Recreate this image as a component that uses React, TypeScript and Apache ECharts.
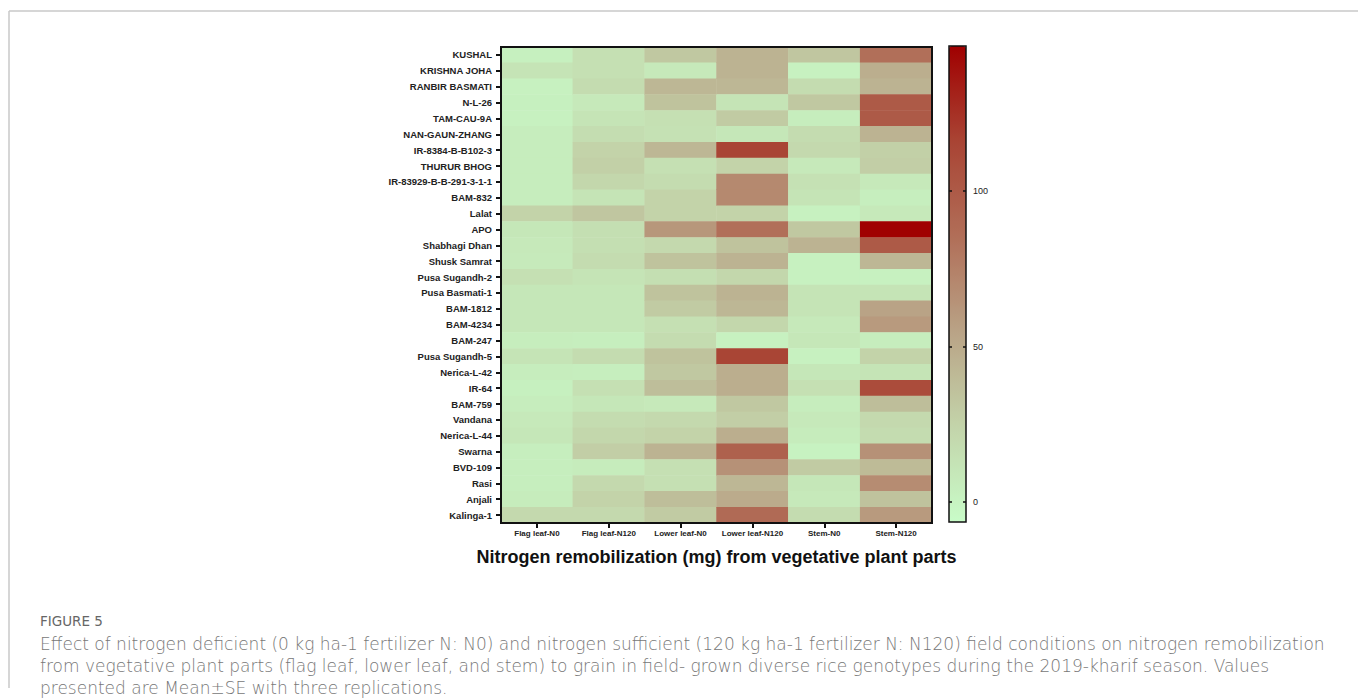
import React, { useEffect, useRef } from "react";
import * as echarts from "echarts";

const genotypes = [
  "KUSHAL", "KRISHNA JOHA", "RANBIR BASMATI", "N-L-26", "TAM-CAU-9A", "NAN-GAUN-ZHANG",
  "IR-8384-B-B102-3", "THURUR BHOG", "IR-83929-B-B-291-3-1-1", "BAM-832", "Lalat", "APO",
  "Shabhagi Dhan", "Shusk Samrat", "Pusa Sugandh-2", "Pusa Basmati-1", "BAM-1812", "BAM-4234",
  "BAM-247", "Pusa Sugandh-5", "Nerica-L-42", "IR-64", "BAM-759", "Vandana", "Nerica-L-44",
  "Swarna", "BVD-109", "Rasi", "Anjali", "Kalinga-1",
];

const parts = ["Flag leaf-N0", "Flag leaf-N120", "Lower leaf-N0", "Lower leaf-N120", "Stem-N0", "Stem-N120"];

const flagLeafN0 = [3, 12, 2, 3, 2, 5, 5, 5, 5, 5, 25, 10, 8, 7, 15, 10, 10, 10, 5, 12, 5, 3, 5, 8, 10, 4, 4, 4, 6, 20];
const flagLeafN120 = [15, 15, 18, 8, 12, 17, 25, 27, 22, 12, 33, 16, 16, 18, 12, 10, 10, 10, 4, 18, 4, 15, 10, 18, 22, 28, 6, 20, 25, 20];
const lowerLeafN0 = [32, 8, 42, 35, 15, 14, 42, 15, 18, 25, 25, 62, 20, 35, 16, 35, 30, 15, 18, 35, 32, 38, 8, 20, 25, 45, 15, 15, 38, 30];
const lowerLeafN120 = [45, 45, 42, 12, 30, 10, 115, 25, 70, 70, 25, 85, 35, 45, 22, 45, 42, 22, 2, 115, 48, 48, 32, 28, 48, 95, 65, 42, 50, 88];
const stemN0 = [33, 2, 18, 32, 5, 18, 20, 8, 14, 12, 2, 32, 45, 2, 2, 12, 12, 8, 10, 2, 10, 15, 5, 8, 6, 1, 30, 10, 8, 18];
const stemN120 = [85, 48, 45, 100, 100, 45, 27, 28, 8, 4, 8, 146, 100, 42, 2, 12, 55, 60, 5, 25, 12, 110, 38, 20, 18, 65, 40, 68, 35, 60];

const columns = [flagLeafN0, flagLeafN120, lowerLeafN0, lowerLeafN120, stemN0, stemN120];

const scaleMin = -6.4;
const scaleMax = 146.6;
const scaleTicks = [0, 50, 100];

const captionTitle = "FIGURE 5";
const captionLines = [
  "Effect of nitrogen deficient (0 kg ha-1 fertilizer N: N0) and nitrogen sufficient (120 kg ha-1 fertilizer N: N120) field conditions on nitrogen remobilization",
  "from vegetative plant parts (flag leaf, lower leaf, and stem) to grain in field- grown diverse rice genotypes during the 2019-kharif season. Values",
  "presented are Mean\u00b1SE with three replications.",
];

export default function App() {
  const ref = useRef<HTMLDivElement>(null);

  useEffect(() => {
    if (!ref.current) return;
    const chart = echarts.init(ref.current, null, { renderer: "svg" });

    const data: [number, number, number][] = [];
    columns.forEach((col, xi) => {
      col.forEach((v, yi) => data.push([xi, yi, v]));
    });

    const gL = 501, gT = 47, gW = 431, gH = 476;
    const cL = 949, cT = 46, cW = 17, cH = 476;
    const labelFont = '"Liberation Sans", Arial, sans-serif';
    const captionFont = '"DejaVu Sans", "Open Sans", sans-serif';

    chart.setOption({
      animation: false,
      backgroundColor: "#ffffff",
      grid: [
        { left: gL, top: gT, width: gW, height: gH, containLabel: false },
        { left: cL, top: cT, width: cW, height: cH, containLabel: false },
      ],
      xAxis: [
        {
          type: "category",
          gridIndex: 0,
          data: parts,
          position: "bottom",
          axisLine: { show: false },
          axisTick: { show: true, alignWithLabel: true, length: 5, lineStyle: { color: "#111", width: 2 } },
          axisLabel: { interval: 0, fontFamily: labelFont, fontSize: 8, fontWeight: "bold", color: "#222", margin: 6 },
          splitLine: { show: false },
          name: "Nitrogen remobilization (mg) from vegetative plant parts",
          nameLocation: "middle",
          nameGap: 25,
          nameTextStyle: { fontFamily: labelFont, fontSize: 18, fontWeight: "bold", color: "#111" },
        },
        {
          type: "category",
          gridIndex: 1,
          data: ["scale"],
          show: false,
        },
      ],
      yAxis: [
        {
          type: "category",
          gridIndex: 0,
          data: genotypes,
          inverse: true,
          axisLine: { show: false },
          axisTick: { show: true, alignWithLabel: true, length: 5, lineStyle: { color: "#111", width: 2 } },
          axisLabel: { interval: 0, fontFamily: labelFont, fontSize: 9.5, fontWeight: "bold", color: "#222", margin: 9 },
          splitLine: { show: false },
        },
        {
          type: "value",
          gridIndex: 1,
          min: scaleMin,
          max: scaleMax,
          position: "left",
          z: 10,
          axisLine: { show: false },
          axisTick: { show: true, inside: true, length: 3, customValues: scaleTicks, lineStyle: { color: "#111", width: 1.5 } },
          axisLabel: { show: false, customValues: scaleTicks },
          splitLine: { show: false },
        },
        {
          type: "value",
          gridIndex: 1,
          min: scaleMin,
          max: scaleMax,
          position: "right",
          z: 10,
          axisLine: { show: false },
          axisTick: { show: true, inside: true, length: 3, customValues: scaleTicks, lineStyle: { color: "#111", width: 1.5 } },
          axisLabel: { show: true, customValues: scaleTicks, fontFamily: labelFont, fontSize: 9, color: "#222", margin: 7 },
          splitLine: { show: false },
        },
      ],
      visualMap: {
        type: "continuous",
        min: scaleMin,
        max: scaleMax,
        seriesIndex: 0,
        calculable: false,
        orient: "vertical",
        left: cL,
        top: cT,
        itemWidth: cW,
        itemHeight: cH,
        padding: 0,
        text: null,
        showLabel: false,
        hoverLink: false,
        inRange: {
          color: ["#c8fcc8", "#c3d4aa", "#b9a386", "#b16e58", "#a94434", "#a00000"],
        },
      },
      series: [
        {
          type: "heatmap",
          xAxisIndex: 0,
          yAxisIndex: 0,
          data,
          itemStyle: { borderWidth: 0 },
          emphasis: { disabled: true },
          progressive: 0,
        },
      ],
      graphic: [
        { type: "line", shape: { x1: 9, y1: 11, x2: 1358, y2: 11 }, style: { stroke: "#c8c8c8", lineWidth: 1.5 }, z: 50 },
        { type: "line", shape: { x1: 9, y1: 11, x2: 9, y2: 688 }, style: { stroke: "#c8c8c8", lineWidth: 1.5 }, z: 50 },
        { type: "rect", shape: { x: gL, y: gT, width: gW, height: gH }, style: { fill: "none", stroke: "#111", lineWidth: 2 }, z: 100 },
        { type: "rect", shape: { x: cL, y: cT, width: cW, height: cH }, style: { fill: "none", stroke: "#111", lineWidth: 1.5 }, z: 100 },
        {
          type: "text", x: 40, y: 621, z: 50,
          style: { text: captionTitle, fill: "#666", font: `400 13.5px ${captionFont}`, textVerticalAlign: "middle" },
        },
        ...captionLines.map((t, i) => ({
          type: "text", x: 40, y: 644 + i * 22, z: 50,
          style: { text: t, fill: "#777", font: `200 17px ${captionFont}`, textVerticalAlign: "middle" },
        })),
      ],
    });

    return () => chart.dispose();
  }, []);

  return (
    <div
      ref={ref}
      style={{ position: "absolute", left: 0, top: 0, width: 1358, height: 699, background: "#fff" }}
    />
  );
}
